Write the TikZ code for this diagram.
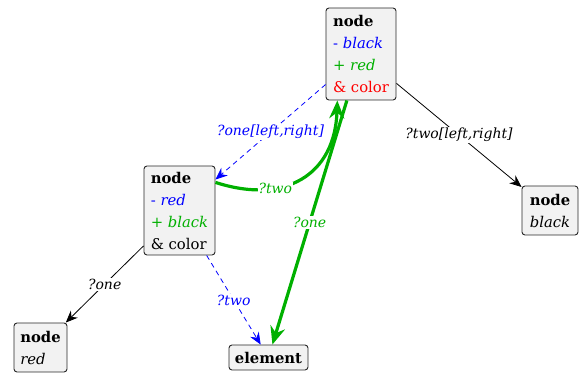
\documentclass[tikz,border=0pt]{standalone}
\usepackage{fontspec}
\setmainfont{DejaVu Serif}
\usetikzlibrary{arrows.meta}
\definecolor{edgegreen}{RGB}{0,176,0}
\definecolor{boxfill}{RGB}{242,242,242}
\definecolor{boxline}{RGB}{40,40,40}
\begin{document}
\begin{tikzpicture}[x=1pt,y=-1pt,
  box/.style={draw=boxline, fill=boxfill, rounded corners=3pt, line width=0.9pt,
    align=left, anchor=center, inner sep=0pt,
    font=\fontsize{14.8}{22}\selectfont},
  lbl/.style={fill=white, inner sep=1pt, font=\fontsize{14}{16}\selectfont\itshape},
  plain/.style={-{Stealth[length=12pt,width=10pt,inset=4pt]}, line width=0.8pt},
  dashedge/.style={plain, blue, dash pattern=on 5pt off 4pt},
  greenedge/.style={-{Stealth[length=18pt,width=15pt,inset=6pt]}, edgegreen, line width=3.2pt},
]
\useasboundingbox (0,0) rectangle (579,374);

% tree nodes
\node[box, minimum width=70pt, minimum height=92pt] (T) at (361,54)
  {\textbf{node}\\\textcolor{blue}{- \textit{black}}\\\textcolor{edgegreen}{+ \textit{red}}\\\textcolor{red}{\& color}};
\node[box, minimum width=71pt, minimum height=89pt] (M) at (179.5,210.5)
  {\textbf{node}\\\textcolor{blue}{- \textit{red}}\\\textcolor{edgegreen}{+ \textit{black}}\\\& color};
\node[box, minimum width=56pt, minimum height=49pt] (R) at (550,210.5)
  {\textbf{node}\\\textit{black}};
\node[box, minimum width=53pt, minimum height=49pt] (BL) at (40.5,347.5)
  {\textbf{node}\\\textit{red}};
\node[box, minimum width=79pt, minimum height=25pt] (E) at (268.5,357.5)
  {\textbf{element}};

% plain edges
\draw[plain] (T) -- node[lbl] {?two[left,right]} (R);
\draw[plain] (M) -- node[lbl] {?one} (BL);

% dashed edges
\draw[dashedge] (T) -- node[lbl, text=blue] {?one[left,right]} (M);
\draw[dashedge] (M) -- node[lbl, text=blue] {?two} (E);

% green edges
\draw[greenedge] (M.38) .. controls (285,205) and (335,175) ..
  node[lbl, text=edgegreen, pos=0.32] {?two} (T.243);
\draw[greenedge] (T) -- node[lbl, text=edgegreen] {?one} (E);
\end{tikzpicture}
\end{document}
